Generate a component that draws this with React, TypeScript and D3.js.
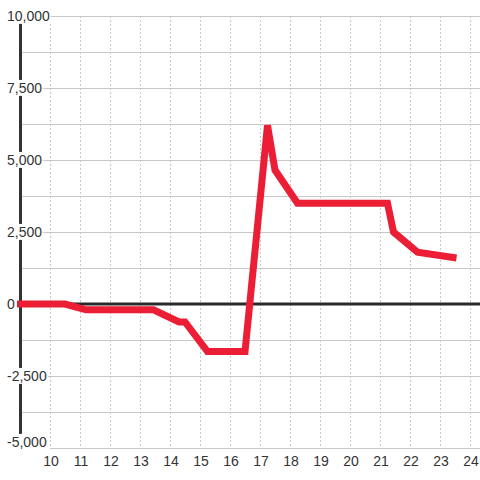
import React, { useEffect, useRef } from "react";
import * as d3 from "d3";

const hours = [8.9, 10.5, 11.2, 13.45, 14.3, 14.5, 15.25, 16.5, 17.25, 17.5, 18.25, 21.25, 21.45, 22.25, 23.55];
const values = [0, 0, -200, -200, -625, -625, -1650, -1650, 6200, 4650, 3500, 3500, 2500, 1800, 1600];
const xTicks = [10, 11, 12, 13, 14, 15, 16, 17, 18, 19, 20, 21, 22, 23, 24];
const yTicks = [-5000, -2500, 0, 2500, 5000, 7500, 10000];
const yGrid = [-5000, -3750, -2500, -1250, 1250, 2500, 3750, 5000, 6250, 7500, 8750, 10000];

const W = 480;
const H = 480;

export default function App() {
  const ref = useRef<SVGSVGElement>(null);

  useEffect(() => {
    document.body.style.margin = "0";
    const svg = d3.select(ref.current);
    svg.selectAll("*").remove();

    const x = d3.scaleLinear().domain([9, 24.3333]).range([20, 480]);
    const y = d3.scaleLinear().domain([-5000, 10000]).range([448, 16]);

    // vertical dashed grid
    svg.append("g").selectAll("line").data(xTicks).join("line")
      .attr("x1", (d) => Math.round(x(d)) + 0.5).attr("x2", (d) => Math.round(x(d)) + 0.5)
      .attr("y1", y(10000)).attr("y2", y(-5000))
      .attr("stroke", "#c8c8c8").attr("stroke-width", 1).attr("stroke-dasharray", "2,2");

    // horizontal grid
    svg.append("g").selectAll("line").data(yGrid).join("line")
      .attr("x1", (d) => (d === -5000 ? 50 : 22)).attr("x2", W)
      .attr("y1", (d) => Math.round(y(d)) + 0.5).attr("y2", (d) => Math.round(y(d)) + 0.5)
      .attr("stroke", "#c8c8c8").attr("stroke-width", 1);

    // y axis line
    svg.append("line")
      .attr("x1", 20.5).attr("x2", 20.5).attr("y1", y(10000)).attr("y2", y(-5000))
      .attr("stroke", "#333").attr("stroke-width", 3);

    // zero line
    svg.append("line")
      .attr("x1", 22).attr("x2", W).attr("y1", y(0)).attr("y2", y(0))
      .attr("stroke", "#2a2a2a").attr("stroke-width", 3);

    // labels with knockout backgrounds
    const yl = svg.append("g").attr("font-family", "'Liberation Sans', Arial, sans-serif")
      .attr("font-size", 14).attr("fill", "#333");
    yTicks.forEach((t) => {
      const g = yl.append("g");
      const rect = g.append("rect").attr("fill", "#fff");
      const ty = t === -5000 ? y(t) - 6 : y(t);
      const txt = g.append("text").attr("x", 7).attr("y", ty).attr("dy", "0.35em")
        .text(d3.format(",")(t).replace("−", "-"));
      const bb = (txt.node() as SVGTextElement).getBBox();
      rect.attr("x", bb.x - 1).attr("y", bb.y).attr("width", bb.width + 2).attr("height", bb.height);
    });

    // data line
    const line = d3.line<number>().x((_, i) => x(hours[i])).y((d) => y(d));
    svg.append("path").datum(values).attr("d", line)
      .attr("fill", "none").attr("stroke", "#ec1e35").attr("stroke-width", 7);

    // x labels
    svg.append("g").selectAll("text").data(xTicks).join("text")
      .attr("x", (d) => x(d) + 1).attr("y", 466)
      .attr("text-anchor", "middle")
      .attr("font-family", "'Liberation Sans', Arial, sans-serif")
      .attr("font-size", 14).attr("fill", "#333")
      .text((d) => String(d));
  }, []);

  return <svg ref={ref} width={W} height={H} style={{ display: "block" }} />;
}
